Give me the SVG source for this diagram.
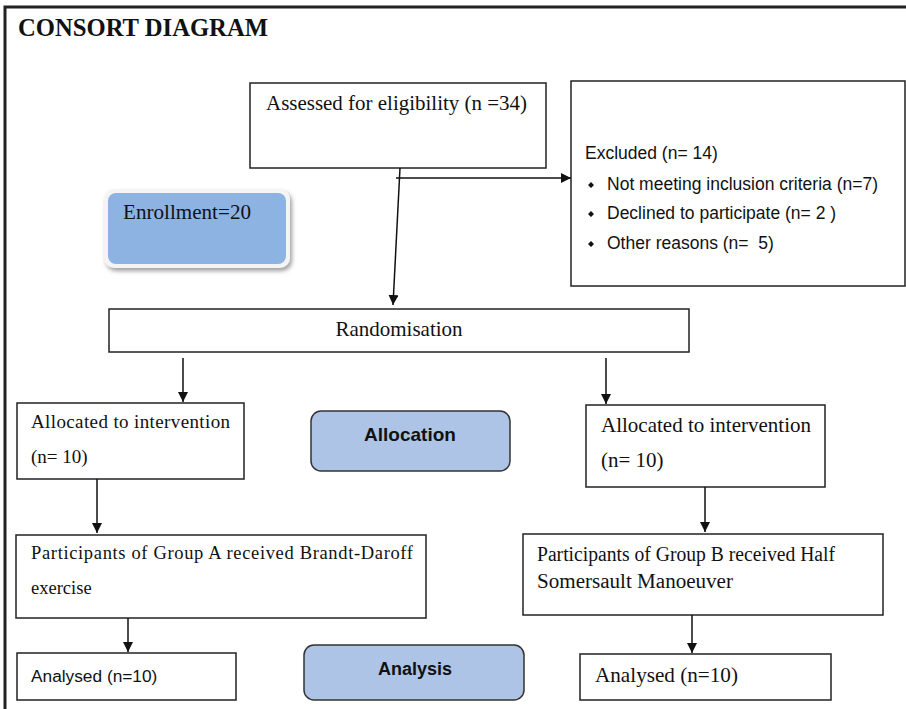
<svg xmlns="http://www.w3.org/2000/svg" width="906" height="709" viewBox="0 0 906 709">
<style>
.box{fill:#fff;stroke:#222;stroke-width:1.5}
.ser{font-family:"Liberation Serif","Times New Roman",serif;fill:#111}
.san{font-family:"Liberation Sans",Arial,sans-serif;fill:#111}
.lbl{fill:#aec4e6;stroke:#333;stroke-width:1.5}
.cn{stroke:#111;stroke-width:1.5;fill:none}
</style>
<defs>
<marker id="ah" viewBox="0 0 10 10" refX="10" refY="5" markerWidth="10" markerHeight="10" markerUnits="userSpaceOnUse" orient="auto">
<path d="M0,0 L10,5 L0,10 z" fill="#111"/>
</marker>
<filter id="sh" x="-10%" y="-10%" width="130%" height="140%">
<feDropShadow dx="2" dy="3" stdDeviation="2" flood-color="#777" flood-opacity="0.7"/>
</filter>
</defs>
<rect width="906" height="709" fill="#fff"/>
<g id="frame">
<path d="M5,709 V7 H906" fill="none" stroke="#222" stroke-width="3"/>
<text x="18" y="36" class="ser" font-size="25" font-weight="bold" textLength="250" lengthAdjust="spacingAndGlyphs">CONSORT DIAGRAM</text>
</g>
<g id="assessed">
<rect class="box" x="250" y="83" width="296" height="85"/>
<text x="266" y="110" class="ser" font-size="21" textLength="261" lengthAdjust="spacingAndGlyphs">Assessed for eligibility (n =34)</text>
</g>
<g id="excluded">
<rect class="box" x="571" y="81" width="334" height="205"/>
<text x="585" y="159" class="san" font-size="17.5">Excluded (n= 14)</text>
<text x="607" y="190" class="san" font-size="17.5" textLength="271" lengthAdjust="spacingAndGlyphs">Not meeting inclusion criteria (n=7)</text>
<text x="607" y="219" class="san" font-size="17.5">Declined to participate (n= 2 )</text>
<text x="607" y="249" class="san" font-size="17.5" xml:space="preserve">Other reasons (n=  5)</text>
<path d="M591,182 l3,3 l-3,3 l-3,-3 z M591,211 l3,3 l-3,3 l-3,-3 z M591,241 l3,3 l-3,3 l-3,-3 z" fill="#111"/>
</g>
<g id="enrollment">
<rect x="104" y="189" width="186" height="79" rx="10" fill="#f4f4f4" filter="url(#sh)"/>
<rect x="108" y="193" width="178" height="71" rx="8" fill="#8db3e2"/>
<text x="123" y="219" class="ser" font-size="21" textLength="128" lengthAdjust="spacingAndGlyphs">Enrollment=20</text>
</g>
<g id="randomisation">
<rect class="box" x="109" y="309" width="580" height="43"/>
<text x="399" y="336" class="ser" font-size="21" text-anchor="middle">Randomisation</text>
</g>
<g id="allocA">
<rect class="box" x="17" y="403" width="227" height="76"/>
<text x="31" y="428" class="ser" font-size="19" textLength="199" lengthAdjust="spacing">Allocated to intervention</text>
<text x="31" y="463" class="ser" font-size="19">(n= 10)</text>
</g>
<g id="allocation">
<rect class="lbl" x="311" y="411" width="199" height="60" rx="10"/>
<text x="410" y="441" class="san" font-size="19" font-weight="bold" text-anchor="middle">Allocation</text>
</g>
<g id="allocB">
<rect class="box" x="586" y="405" width="239" height="82"/>
<text x="601" y="432" class="ser" font-size="21" textLength="210" lengthAdjust="spacingAndGlyphs">Allocated to intervention</text>
<text x="601" y="467" class="ser" font-size="21">(n= 10)</text>
</g>
<g id="groupA">
<rect class="box" x="16" y="535" width="410" height="83"/>
<text x="31" y="559" class="ser" font-size="18.5" textLength="382" lengthAdjust="spacing">Participants of Group A received Brandt-Daroff</text>
<text x="31" y="594" class="ser" font-size="18.5">exercise</text>
</g>
<g id="groupB">
<rect class="box" x="523" y="534" width="360" height="81"/>
<text x="537" y="561" class="ser" font-size="20" textLength="298" lengthAdjust="spacingAndGlyphs">Participants of Group B received Half</text>
<text x="537" y="588" class="ser" font-size="20" textLength="196" lengthAdjust="spacingAndGlyphs">Somersault Manoeuver</text>
</g>
<g id="analysedA">
<rect class="box" x="17" y="653" width="219" height="47"/>
<text x="31" y="682" class="san" font-size="17.3">Analysed (n=10)</text>
</g>
<g id="analysis">
<rect class="lbl" x="304" y="645" width="220" height="55" rx="10"/>
<text x="415" y="675" class="san" font-size="18" font-weight="bold" text-anchor="middle">Analysis</text>
</g>
<g id="analysedB">
<rect class="box" x="580" y="654" width="251" height="46"/>
<text x="595" y="682" class="ser" font-size="21" textLength="143" lengthAdjust="spacingAndGlyphs">Analysed (n=10)</text>
</g>
<g id="connectors">
<line class="cn" x1="400" y1="168" x2="393" y2="305" marker-end="url(#ah)"/>
<line class="cn" x1="396" y1="178" x2="571" y2="178" marker-end="url(#ah)"/>
<line class="cn" x1="183" y1="358" x2="183" y2="402" marker-end="url(#ah)"/>
<line class="cn" x1="606" y1="358" x2="606" y2="404" marker-end="url(#ah)"/>
<line class="cn" x1="97" y1="479" x2="97" y2="533" marker-end="url(#ah)"/>
<line class="cn" x1="705" y1="487" x2="705" y2="532" marker-end="url(#ah)"/>
<line class="cn" x1="128" y1="618" x2="128" y2="652" marker-end="url(#ah)"/>
<line class="cn" x1="692" y1="615" x2="692" y2="653" marker-end="url(#ah)"/>
</g>
</svg>
